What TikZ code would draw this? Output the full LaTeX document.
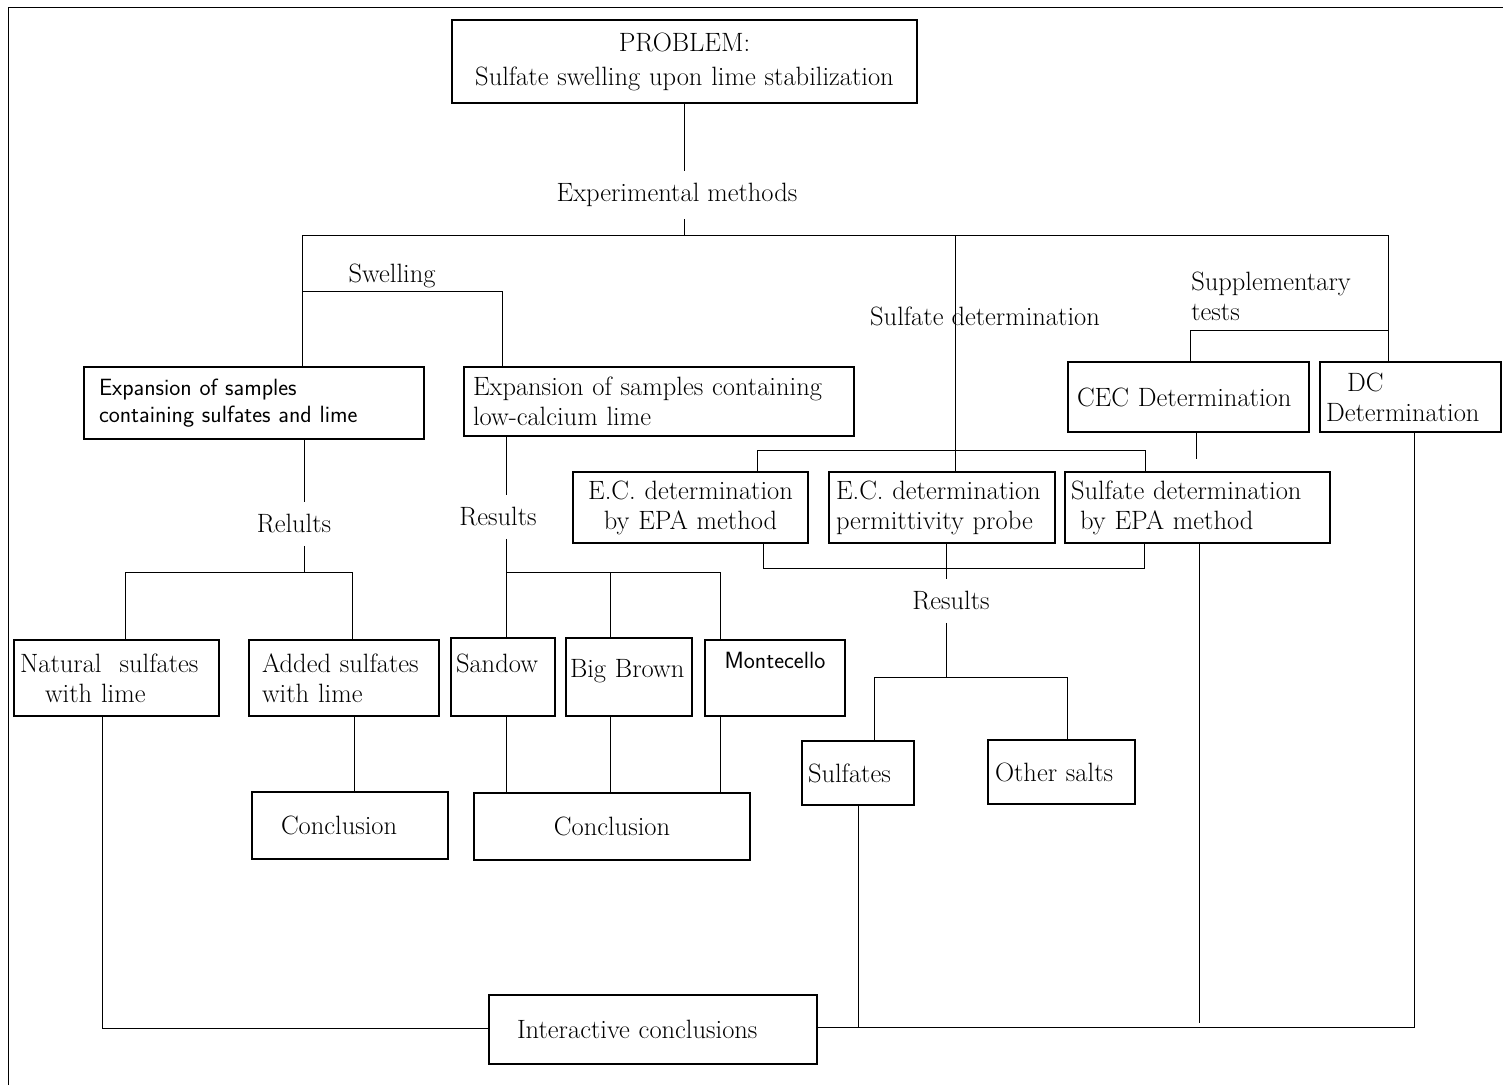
\documentclass[tikz,border=0pt]{standalone}
\usepackage{fontspec}
\usepackage{tikz}

\newcommand{\chartfont}{\fontsize{26.5}{30}\selectfont}
\newcommand{\chartsans}{\sffamily\fontsize{23.5}{27}\selectfont}

\tikzset{
  box/.style={draw, line width=1.2pt, inner xsep=8pt, inner ysep=0pt, align=left, font=\chartfont},
  lbl/.style={inner xsep=2pt, inner ysep=12pt, font=\chartfont},
}

\begin{document}
\begin{tikzpicture}[x=1pt, y=-1pt, line width=1pt]
\useasboundingbox (0,0) rectangle (1503,1085);

% frame of the page
\draw (8,1085) -- (8,7) -- (1503,7);

% top
\node[box, align=center, text width=449pt, minimum height=83pt] (problem) at (684.5,61.5) {PROBLEM:\\[4pt]Sulfate swelling upon lime stabilization};
\node[lbl] (expm) at (677,195) {Experimental methods};
\node[lbl] (swl) at (392,276) {Swelling};
\node[lbl] (sdlbl) at (985,316) {Sulfate determination};
\node[lbl, align=left] (supp) at (1271,296) {Supplementary\\tests};

% second row
\node[box, font=\chartsans, inner xsep=15pt, text width=310pt, minimum height=72pt] (exp1) at (254,403) {Expansion of samples\\containing sulfates and lime};
\node[box, inner xsep=9pt, text width=372pt, minimum height=69pt] (exp2) at (659,401.5) {Expansion of samples containing\\low-calcium lime};
\node[box, inner xsep=9pt, text width=223pt, minimum height=70pt] (cec) at (1188.5,397) {CEC Determination};
\node[box, inner xsep=6pt, text width=169pt, minimum height=70pt] (dc) at (1410.5,397) {\hspace{21pt}DC\\Determination};

% sulfate determination row
\node[box, align=center, text width=219pt, minimum height=71pt] (ec1) at (690.5,507.5) {E.C. determination\\by EPA method};
\node[box, inner xsep=7pt, text width=212pt, minimum height=71pt] (ec2) at (942,507.5) {E.C. determination\\permittivity probe};
\node[box, inner xsep=6pt, text width=253pt, minimum height=71pt] (sdet) at (1197.5,507.5) {Sulfate determination\\\hspace{9pt}by EPA method};

\node[lbl] (rel1) at (294,524) {Relults};
\node[lbl] (res2) at (498,517) {Results};
\node[lbl] (res3) at (951,601) {Results};

% results
\node[box, inner xsep=6pt, text width=193pt, minimum height=76pt] (natural) at (116.5,678) {Natural\hspace{18pt}sulfates\\\hspace{25pt}with lime};
\node[box, inner xsep=13pt, text width=164pt, minimum height=76pt] (added) at (344,678) {Added sulfates\\with lime};
\node[box, inner xsep=5pt, text width=94pt, text height=34pt, text depth=44pt] (sandow) at (503,677) {Sandow};
\node[box, inner xsep=4pt, text width=118pt, text height=39pt, text depth=39pt] (bigb) at (629,677) {Big Brown};
\node[box, font=\chartsans, align=center, text width=124pt, text height=28pt, text depth=48pt] (mont) at (775,678) {Montecello};
\node[box, inner xsep=6pt, text width=100pt, minimum height=64pt] (sulf) at (858,773) {Sulfates};
\node[box, inner xsep=7pt, text width=133pt, minimum height=64pt] (other) at (1061.5,772) {Other salts};

\node[box, inner xsep=29pt, text width=138pt, minimum height=67pt] (conc1) at (350,825.5) {Conclusion};
\node[box, align=center, text width=260pt, minimum height=67pt] (conc2) at (612,826.5) {Conclusion};
\node[box, inner xsep=28pt, text width=272pt, minimum height=69pt] (inter) at (653,1029.5) {Interactive conclusions};

% junctions
\coordinate (jl) at (302,235);
\coordinate (jm) at (955,235);
\coordinate (jr) at (1388,235);
\coordinate (sw1) at (302,291);
\coordinate (sw2) at (502,291);
\coordinate (sp) at (1190,330);
\coordinate (s1) at (757,450);
\coordinate (s2) at (1145,450);
\coordinate (cs) at (1196,459);
\coordinate (b1) at (763,568);
\coordinate (b2) at (1144,568);
\coordinate (r1) at (304,572);
\coordinate (r1a) at (125,572);
\coordinate (r1b) at (352,572);
\coordinate (r2) at (506,572);
\coordinate (r2b) at (610,572);
\coordinate (r2c) at (720,572);
\coordinate (r3) at (946,677);
\coordinate (r3a) at (874,677);
\coordinate (r3b) at (1067,677);
\coordinate (c1) at (354,792);
\coordinate (il) at (102,1028);
\coordinate (ir) at (1414,1027);
\coordinate (sd) at (1199,1023);

% connectors
\draw (problem.south) -- (problem.south |- expm.north);
\draw (problem.south |- expm.south) -- (problem.south |- jm);
\draw (exp1.north -| jl) -- (jl) -- (jr) -- (dc.north -| jr);
\draw (jm) -- (ec2.north -| jm);
\draw (sw1) -- (sw2) -- (exp2.north -| sw2);
\draw (cec.north -| sp) -- (sp) -- (sp -| jr);

\draw (ec1.north -| s1) -- (s1) -- (s2) -- (sdet.north -| s2);
\draw (cec.south -| cs) -- (cs);
\draw (ec1.south -| b1) -- (b1) -- (b2) -- (sdet.south -| b2);

\draw (ec2.south -| r3) -- (res3.north -| r3);
\draw (res3.south -| r3) -- (r3);
\draw (sulf.north -| r3a) -- (r3a) -- (r3b) -- (other.north -| r3b);

\draw (exp1.south -| r1) -- (rel1.north -| r1);
\draw (rel1.south -| r1) -- (r1);
\draw (natural.north -| r1a) -- (r1a) -- (r1b) -- (added.north -| r1b);

\draw (exp2.south -| r2) -- (res2.north -| r2);
\draw (res2.south -| r2) -- (r2) -- (r2c) -- (mont.north -| r2c);
\draw (r2) -- (sandow.north -| r2);
\draw (r2b) -- (bigb.north -| r2b);

\draw (added.south -| c1) -- (c1);
\draw (sandow.south -| r2) -- (conc2.north -| r2) -- (conc2.north -| r2b) -- (bigb.south -| r2b);
\draw (mont.south -| r2c) -- (conc2.north -| r2c);

% into the interactive conclusions
\draw (natural.south -| il) -- (il) -- (inter.west |- il);
\draw (inter.east |- ir) -- (ir) -- (dc.south -| ir);
\draw (sulf.south) -- (sulf.south |- ir);
\draw (sdet.south -| sd) -- (sd);

\end{tikzpicture}
\end{document}
